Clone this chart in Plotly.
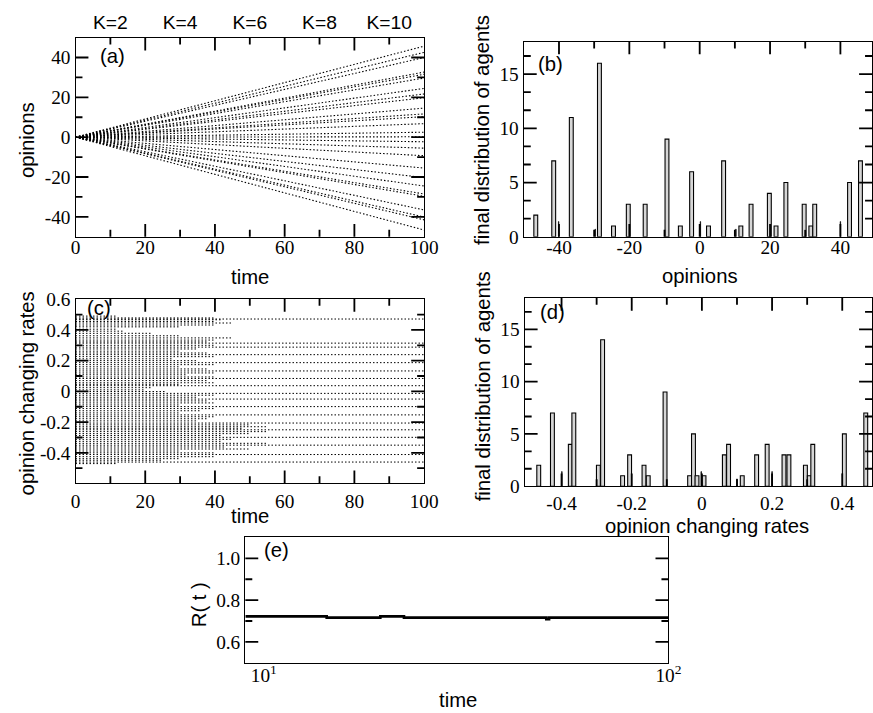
import math
import plotly.graph_objects as go

# ---------------- data ----------------
# panel (b): final distribution of opinions (bin centre, number of agents)
opinion_bins = [-46.6, -41.5, -36.5, -28.5, -24.5, -20.3, -15.5, -9.3, -5.5, -2.3, 2.5,
                6.8, 11.7, 14.6, 19.8, 21.7, 24.5, 29.7, 31.6, 32.7, 42.6, 45.7]
opinion_counts = [2, 7, 11, 16, 1, 3, 3, 9, 1, 6, 1, 7, 1, 3, 4, 1, 5, 3, 1, 3, 5, 7]
opinion_spikes = [-40.1, -29.7, 0.2, 10.3, 40.0]
opinion_spike_counts = [1.4, 0.7, 1.4, 0.7, 1.4]

# panel (a): opinion of each cluster at t = 100 (lines start at 0 at t = 0)
final_opinions = [-46.6, -41.5, -40.1, -36.5, -29.7, -28.5, -24.5, -20.3, -15.5, -9.3, -5.5,
                  -2.3, 0.2, 2.5, 6.8, 10.3, 11.7, 14.6, 19.8, 21.7, 24.5, 29.7, 31.6,
                  32.7, 40.0, 42.6, 45.7]
time_start = 0
time_end = 100

# panel (d): final distribution of opinion changing rates
rate_bins = [-0.465, -0.426, -0.375, -0.365, -0.295, -0.283, -0.226, -0.206, -0.165, -0.153,
             -0.105, -0.035, -0.024, -0.014, 0.006, 0.064, 0.076, 0.115, 0.156, 0.186,
             0.234, 0.248, 0.295, 0.306, 0.316, 0.406, 0.467]
rate_counts = [2, 7, 4, 7, 2, 14, 1, 3, 2, 1, 9, 1, 5, 1, 1, 3, 4, 1, 3, 4, 3, 3, 2, 1, 4, 5, 7]
rate_spikes = [-0.399, -0.002, 0.100, 0.200]
rate_spike_counts = [1.4, 1.4, 0.7, 1.4]

# panel (c): rate levels persisting to t = 100 ...
rate_levels_late = [0.471, 0.314, 0.288, 0.239, 0.187, 0.133, 0.084, 0.037, -0.013, -0.05,
                    -0.099, -0.153, -0.206, -0.25, -0.299, -0.35, -0.411, -0.46]
# ... and early levels with the time at which they vanish
rate_levels_early = [0.490, 0.478, 0.466, 0.455, 0.445, 0.432, 0.420, 0.405, 0.392, 0.378,
                     0.362, 0.348, 0.334, 0.322, 0.300, 0.276, 0.262, 0.250, 0.226, 0.212,
                     0.200, 0.174, 0.160, 0.146, 0.120, 0.108, 0.094, 0.070, 0.056, 0.046,
                     0.024, 0.010, -0.001, -0.025, -0.038, -0.062, -0.075, -0.088, -0.112,
                     -0.126, -0.140, -0.165, -0.178, -0.192, -0.218, -0.230, -0.240, -0.262,
                     -0.275, -0.287, -0.312, -0.325, -0.338, -0.362, -0.375, -0.388, -0.400,
                     -0.425, -0.438, -0.448, -0.470]
rate_early_end = [12, 40, 42, 40, 45, 40, 30, 12, 14, 22,
                  30, 45, 40, 38, 40, 35, 30, 38, 40, 28,
                  35, 40, 30, 38, 40, 32, 40, 38, 40, 30,
                  22, 20, 26, 40, 35, 38, 40, 30, 40,
                  36, 30, 40, 38, 35, 50, 55, 48, 55,
                  50, 42, 45, 42, 55, 43, 50, 30, 40,
                  40, 30, 25, 12]

# panel (e): R(t)
R_time = [9, 14.3, 19.4, 22.2, 49.9, 50.7, 100]
R_value = [0.722, 0.716, 0.722, 0.716, 0.709, 0.716, 0.716]

# top axis labels of panel (a)
k_ticks = [10, 30, 50, 70, 90]
k_labels = ["K=2", "K=4", "K=6", "K=8", "K=10"]

# tick positions (major, minor) of each axis
t_major, t_minor = [20, 40, 60, 80], [10, 30, 50, 70, 90]
op_major, op_minor = [-40, -20, 0, 20, 40], [-30, -10, 10, 30]
cnt_major, cnt_minor = [5, 10, 15], [5 / 3, 10 / 3, 20 / 3, 25 / 3, 35 / 3, 40 / 3, 50 / 3]
rc_major, rc_minor = [-0.4, -0.2, 0, 0.2, 0.4], [-0.5, -0.3, -0.1, 0.1, 0.3, 0.5]
rd_major, rd_minor = [-0.4, -0.2, 0, 0.2, 0.4], [-0.3, -0.1, 0.1, 0.3]
e_xmajor, e_xminor = [10], [20, 30, 40, 50, 60, 70, 80, 90]
e_ymajor, e_yminor = [0.6, 0.8, 1.0], [0.7, 0.9]

# ---------------- figure ----------------
# the photographed page is scaled by 873/886, so lay out at 886 x 724
W0, H0 = 873, 713
S = 886 / 873
W, H = round(W0 * S), round(H0 * S)
SANS = "Liberation Sans, Arial, sans-serif"
SERIF = "Liberation Serif, Times New Roman, serif"
TICKFONT = dict(family=SERIF, size=19 * S, color="black")
DOT = "1.5px,2px"
M = "\u2212"
ALIAS = {M + "40": "-40", M + "20": "-20", M + "0.4": "-0.4", M + "0.2": "-0.2"}
LW = 1.4 * S
TW = 1.8 * S
MAJ, MIN = 13 * S, 7 * S

# panel boxes in reference pixels: left, top, right, bottom
BOX = {
    "a": (71, 28, 422, 230),
    "b": (522.4, 32, W0, 230),
    "c": (71, 293, 422, 480),
    "d": (523.3, 292, W0, 483),
    "e": (242, 535, 668, 662),
}


def fx(p):
    return min(max(p / W0, 0), 1)


def fy(p):
    return min(max(1 - p / H0, 0), 1)


def dom(k):
    l, t, r, b = BOX[k]
    return [fx(l), fx(r)], [fy(b), fy(t)]


def axis(domain, rng, tick0, dtick, standoff=0, **kw):
    d = dict(domain=domain, range=rng, showline=True, linecolor="black", linewidth=LW,
             mirror=True, ticks="", showgrid=False, zeroline=False, tickfont=TICKFONT,
             tickmode="linear", tick0=tick0, dtick=dtick, labelalias=ALIAS,
             ticklabelstandoff=standoff, layer="above traces")
    d.update(kw)
    return d


shapes = []


def add_ticks(k, xa, ya, xmaj, xmin, ymaj, ymin):
    l, t, r, b = BOX[k]
    wpx, hpx = (r - l) * S, (b - t) * S
    for vals, ln in ((xmaj, MAJ), (xmin, MIN)):
        for v in vals:
            for y0, y1 in ((0, ln / hpx), (1, 1 - ln / hpx)):
                shapes.append(dict(type="line", xref=xa, yref=ya + " domain", x0=v, x1=v,
                                   y0=y0, y1=y1, layer="above",
                                   line=dict(color="black", width=TW)))
    for vals, ln in ((ymaj, MAJ), (ymin, MIN)):
        for v in vals:
            for x0, x1 in ((0, ln / wpx), (1, 1 - ln / wpx)):
                shapes.append(dict(type="line", xref=xa + " domain", yref=ya, x0=x0, x1=x1,
                                   y0=v, y1=v, layer="above",
                                   line=dict(color="black", width=TW)))


fig = go.Figure()

# (a) opinion trajectories
xa_, ya_ = [], []
for v in final_opinions:
    xa_ += [time_start, time_end, None]
    ya_ += [0, v, None]
fig.add_trace(go.Scatter(x=xa_, y=ya_, mode="lines", xaxis="x", yaxis="y",
                         line=dict(color="black", width=1.1, dash=DOT), hoverinfo="skip"))
fig.add_trace(go.Scatter(x=k_ticks, y=[0] * len(k_ticks), mode="markers", xaxis="x2", yaxis="y",
                         marker=dict(opacity=0), hoverinfo="skip"))

# (b) histogram of opinions
fig.add_trace(go.Bar(x=opinion_bins, y=opinion_counts, width=1.1, xaxis="x3", yaxis="y3",
                     marker=dict(color="#d6d6d6", line=dict(color="black", width=1.1))))
fig.add_trace(go.Bar(x=opinion_spikes, y=opinion_spike_counts, width=0.12, xaxis="x3", yaxis="y3",
                     marker=dict(color="black", line=dict(color="black", width=0.7))))

# (c) opinion changing rates
xc, yc = [], []
for r in rate_levels_late:
    xc += [time_start, time_end, None]
    yc += [r, r, None]
for r, te in zip(rate_levels_early, rate_early_end):
    xc += [time_start, te, None]
    yc += [r, r, None]
fig.add_trace(go.Scatter(x=xc, y=yc, mode="lines", xaxis="x4", yaxis="y4",
                         line=dict(color="black", width=1.0, dash=DOT), hoverinfo="skip"))

# (d) histogram of rates
fig.add_trace(go.Bar(x=rate_bins, y=rate_counts, width=0.011, xaxis="x5", yaxis="y5",
                     marker=dict(color="#d6d6d6", line=dict(color="black", width=1.1))))
fig.add_trace(go.Bar(x=rate_spikes, y=rate_spike_counts, width=0.0012, xaxis="x5", yaxis="y5",
                     marker=dict(color="black", line=dict(color="black", width=0.7))))

# (e) R(t)
fig.add_trace(go.Scatter(x=R_time, y=R_value, mode="lines", xaxis="x6", yaxis="y6",
                         line=dict(color="black", width=2.6 * S, shape="hv"), hoverinfo="skip"))

xb_right = -50 + (W0 - 522.4) / 3.542
xd_right = -0.505 + (W0 - 523.3) / 353.3
dA, dB, dC, dD, dE = dom("a"), dom("b"), dom("c"), dom("d"), dom("e")

layout = dict(
    width=W, height=H, margin=dict(l=0, r=0, t=0, b=0), autosize=False,
    paper_bgcolor="white", plot_bgcolor="rgba(0,0,0,0)", showlegend=False, barmode="overlay",
    xaxis=axis(dA[0], [0, 100], 0, 20, -7, anchor="y"),
    yaxis=axis(dA[1], [-50, 50], 0, 20, anchor="x"),
    xaxis2=dict(overlaying="x", side="top", anchor="y", range=[0, 100], tickmode="array",
                tickvals=k_ticks, ticktext=k_labels, ticks="", showline=False, showgrid=False,
                zeroline=False, ticklabelstandoff=4,
                tickfont=dict(family=SANS, size=19 * S, color="black")),
    xaxis3=axis(dB[0], [-50, xb_right], 0, 20, -7, anchor="y3"),
    yaxis3=axis(dB[1], [0, 18], 0, 5, anchor="x3"),
    xaxis4=axis(dC[0], [0, 100], 0, 20, 0, anchor="y4"),
    yaxis4=axis(dC[1], [-0.598, 0.602], 0, 0.2, anchor="x4"),
    xaxis5=axis(dD[0], [-0.505, xd_right], 0, 0.2, -1, anchor="y5"),
    yaxis5=axis(dD[1], [0, 18], 0, 5, anchor="x5"),
    xaxis6=dict(domain=dE[0], range=[0.9542, 2], type="log", anchor="y6",
                showline=True, linecolor="black", linewidth=LW, mirror=True,
                ticks="", showgrid=False, zeroline=False, tickfont=TICKFONT, tickmode="array",
                tickvals=[10, 100], ticktext=["10<sup>1</sup>", "10<sup>2</sup>"],
                ticklabelstandoff=-5),
    yaxis6=axis(dE[1], [0.5, 1.1], 0.6, 0.2, anchor="x6", tickformat=".1f"),
)
fig.update_layout(**layout)

add_ticks("a", "x", "y", t_major, t_minor, op_major, op_minor)
add_ticks("b", "x3", "y3", op_major, op_minor, cnt_major, cnt_minor)
add_ticks("c", "x4", "y4", t_major, t_minor, rc_major, rc_minor)
add_ticks("d", "x5", "y5", rd_major, rd_minor, cnt_major, cnt_minor)
# log axis: shape positions are log10 of the value
add_ticks("e", "x6", "y6", [math.log10(v) for v in e_xmajor], [math.log10(v) for v in e_xminor],
          e_ymajor, e_yminor)
fig.update_layout(shapes=shapes)

ann_font = dict(family=SANS, size=20 * S, color="black")
labels = [
    ("(a)", 108, 47, 0), ("(b)", 549, 55, 0), ("(c)", 95, 302, 0), ("(d)", 551, 306, 0),
    ("(e)", 273, 548, 0),
    ("time", 247, 271, 0), ("opinions", 22, 132, -90),
    ("opinions", 700, 270, 0), ("final distribution of agents", 481, 122, -90),
    ("time", 247, 513, 0), ("opinion changing rates", 22, 389, -90),
    ("opinion changing rates", 707, 523, 0), ("final distribution of agents", 481, 382, -90),
    ("time", 456, 700, 0), ("R( t )", 195, 603, -90),
]
for txt, x, y, ang in labels:
    fig.add_annotation(text=txt, x=fx(x), y=fy(y), xref="paper", yref="paper",
                       xanchor="center", yanchor="middle", showarrow=False,
                       textangle=ang, font=ann_font)

fig.write_html("out.html", config={"displayModeBar": False, "responsive": False},
               post_script="document.body.style.margin='0px';document.body.style.overflow='hidden';")
